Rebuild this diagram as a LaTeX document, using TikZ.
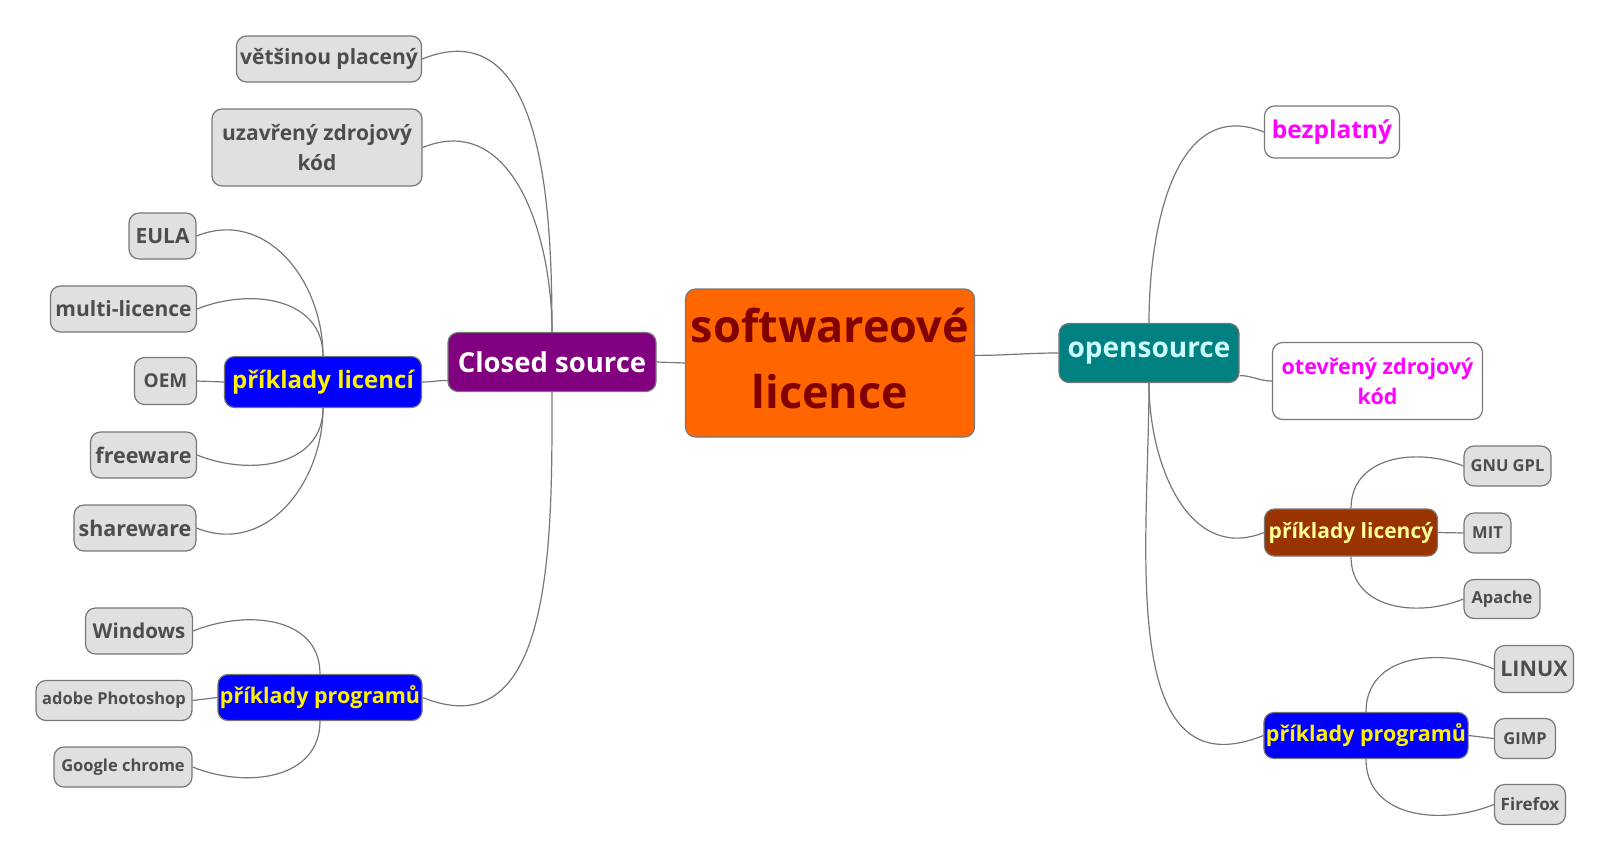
\documentclass[tikz,border=0pt]{standalone}
\usepackage{fontspec}
\setmainfont{Open Sans}
\definecolor{edgegray}{HTML}{777777}
\definecolor{leafgray}{HTML}{E0E0E0}
\definecolor{leaftext}{HTML}{4D4D4D}
\definecolor{rootfill}{HTML}{FF6600}
\definecolor{roottext}{HTML}{800000}
\definecolor{closedfill}{HTML}{800080}
\definecolor{openfill}{HTML}{008080}
\definecolor{opentext}{HTML}{CCFFFF}
\definecolor{licfill}{HTML}{993300}
\definecolor{lictext}{HTML}{FFFF99}
\definecolor{pinktext}{HTML}{FF00FF}
\tikzset{
 box/.style={draw=edgegray,line width=1.2pt,rounded corners=10pt,align=center,inner sep=2pt},
 fs/.style 2 args={font=\bfseries\fontsize{#1}{#2}\selectfont},
 wh/.style 2 args={minimum width=#1pt,minimum height=#2pt},
 leaf/.style={box,fill=leafgray,text=leaftext},
 pinkbox/.style={box,fill=white,text=pinktext},
 bluebox/.style={box,fill=blue,text=yellow},
 conn/.style={draw=edgegray,line width=1.2pt},
 upL/.style={out=90,in=22,looseness=1.1},
 downL/.style={out=-90,in=-22,looseness=1.1},
 upR/.style={out=90,in=158,looseness=1.1},
 downR/.style={out=-90,in=202,looseness=1.1}
}
\begin{document}
\begin{tikzpicture}[x=1pt,y=1pt]
\useasboundingbox (0,0) rectangle (1612,-863);
% root and the two main branches
\node[box,fill=rootfill,wh={289}{148}] (root) at (830,-363) {};
\node[text=roottext,align=center,fs={45}{66}] (roottxt) at ([yshift=5]root.center) {softwareové\\licence};
\node[box,fill=closedfill,text=white,wh={208}{59},fs={27.5}{34}] (closed) at (552,-362) {Closed source};
\node[box,fill=openfill,text=opentext,wh={180}{59},fs={28}{34}] (opensrc) at (1149,-353) {opensource};
% closed source side
\node[leaf,wh={185}{46},fs={21}{30}] (placeny) at (329,-59) {většinou placený};
\node[leaf,wh={210}{77},fs={21}{30}] (uzavreny) at (317,-147.5) {uzavřený zdrojový\\kód};
\node[bluebox,wh={197}{51},fs={24}{30}] (licL) at (323,-382) {příklady licencí};
\node[leaf,wh={67}{46},fs={21}{30}] (eula) at (162.5,-236) {EULA};
\node[leaf,wh={146}{46},fs={21}{30}] (multi) at (123.5,-309) {multi-licence};
\node[leaf,wh={62}{47},fs={19}{30}] (oem) at (165.5,-381) {OEM};
\node[leaf,wh={106}{46},fs={21.5}{30}] (freeware) at (143.5,-455) {freeware};
\node[leaf,wh={122}{46},fs={21.5}{30}] (shareware) at (135,-528) {shareware};
\node[bluebox,wh={204}{46},fs={21.5}{30}] (progL) at (320,-697.5) {příklady programů};
\node[leaf,wh={107}{46},fs={20.5}{30}] (windows) at (139,-631) {Windows};
\node[leaf,wh={156}{40},fs={16.5}{24}] (photoshop) at (114,-700.5) {adobe Photoshop};
\node[leaf,wh={138}{40},fs={16.5}{24}] (chrome) at (123,-767) {Google chrome};
% opensource side
\node[pinkbox,wh={135}{52},fs={24.5}{30}] (bezplatny) at (1332,-132) {bezplatný};
\node[pinkbox,wh={210}{77},fs={21.5}{30}] (otevreny) at (1377.5,-381) {otevřený zdrojový\\kód};
\node[box,fill=licfill,text=lictext,wh={173}{47},fs={21}{30}] (licR) at (1351,-532.5) {příklady licencý};
\node[leaf,wh={87}{40},fs={16.5}{24}] (gpl) at (1507.5,-466) {GNU GPL};
\node[leaf,wh={47}{40},fs={16.5}{24}] (mit) at (1487.5,-533) {MIT};
\node[leaf,wh={76}{39},fs={16.5}{24}] (apache) at (1502,-599) {Apache};
\node[bluebox,wh={204}{46},fs={21.5}{30}] (progR) at (1366,-735.5) {příklady programů};
\node[leaf,wh={79}{47},fs={21.5}{30}] (linux) at (1534,-669) {LINUX};
\node[leaf,wh={61}{40},fs={16.5}{24}] (gimp) at (1525,-738.5) {GIMP};
\node[leaf,wh={71}{40},fs={17}{24}] (firefox) at (1530,-804.5) {Firefox};
% connectors
\draw[conn] (closed.east) -- (root.west);
\draw[conn] (root.3) to[out=0,in=180] (opensrc.west);
\draw[conn] (closed.north) to[upL] (placeny.east);
\draw[conn] (closed.north) to[upL] (uzavreny.east);
\draw[conn] (closed.190) to[out=180,in=0] (licL.east);
\draw[conn] (closed.south) to[downL] (progL.east);
\draw[conn] (licL.north) to[upL] (eula.east);
\draw[conn] (licL.north) to[upL] (multi.east);
\draw[conn] (licL.west) -- (oem.east);
\draw[conn] (licL.south) to[downL] (freeware.east);
\draw[conn] (licL.south) to[downL] (shareware.east);
\draw[conn] (progL.north) to[upL] (windows.east);
\draw[conn] (progL.west) -- (photoshop.east);
\draw[conn] (progL.south) to[downL] (chrome.east);
\draw[conn] (opensrc.north) to[upR] (bezplatny.west);
\draw[conn] (opensrc.346) to[out=0,in=180] (otevreny.west);
\draw[conn] (opensrc.south) to[downR] (licR.west);
\draw[conn] (opensrc.south) to[downR] (progR.west);
\draw[conn] (licR.north) to[upR] (gpl.west);
\draw[conn] (licR.east) -- (mit.west);
\draw[conn] (licR.south) to[downR] (apache.west);
\draw[conn] (progR.north) to[upR] (linux.west);
\draw[conn] (progR.east) -- (gimp.west);
\draw[conn] (progR.south) to[downR] (firefox.west);
\end{tikzpicture}
\end{document}
